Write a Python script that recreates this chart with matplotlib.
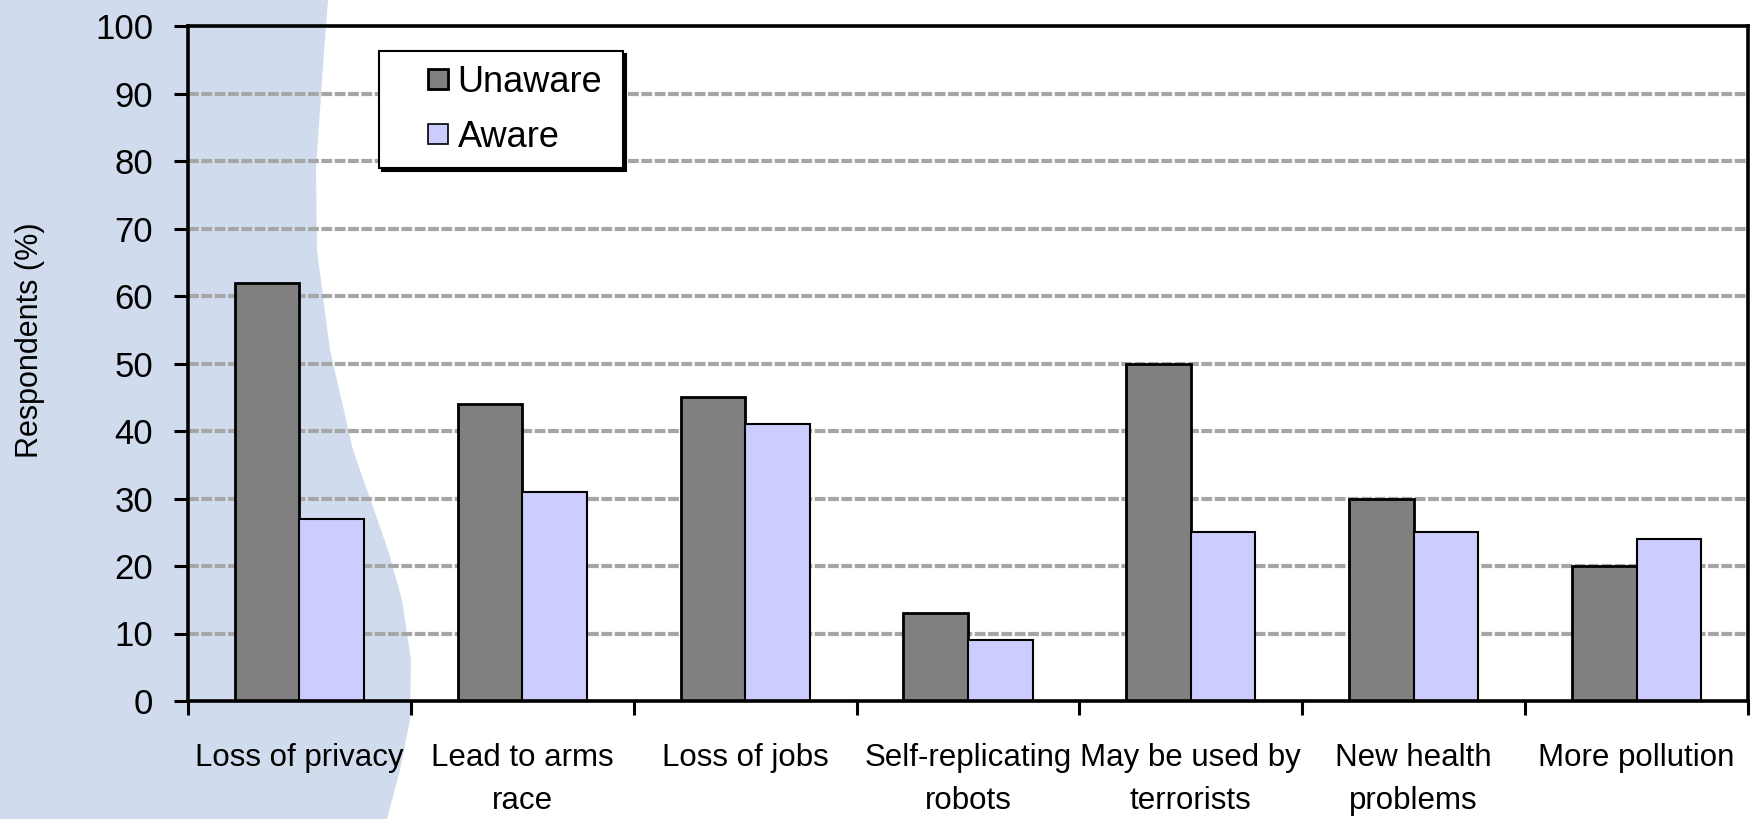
import matplotlib
matplotlib.use("Agg")
import matplotlib.pyplot as plt
import numpy as np
from matplotlib import font_manager as fm
from matplotlib.patches import Polygon
from matplotlib.lines import Line2D

categories = ["Loss of privacy", "Lead to arms\nrace", "Loss of jobs",
              "Self-replicating\nrobots", "May be used by\nterrorists",
              "New health\nproblems", "More pollution"]
unaware = [62, 44, 45, 13, 50, 30, 20]
aware = [27, 31, 41, 9, 25, 25, 24]
series_names = ["Unaware", "Aware"]
yticks = list(range(0, 101, 10))

names = {f.name for f in fm.fontManager.ttflist}
base = "Liberation Sans" if "Liberation Sans" in names else "DejaVu Sans"
narrow = "Liberation Sans Narrow" if "Liberation Sans Narrow" in names else base
narrow_size = 28 if narrow != base else 25
plt.rcParams["font.family"] = [base, "DejaVu Sans"]

W, H = 1751, 819
fig = plt.figure(figsize=(W / 100, H / 100), dpi=100)
fig.patch.set_facecolor("white")

# decorative blue wave on the left (figure pixel coords -> fraction)
wave_px = [(0, 0), (328, 0), (322, 80), (316, 170), (317, 250), (330, 350),
           (353, 450), (388, 550), (402, 600), (411, 660), (410, 720),
           (400, 770), (387, 819), (0, 819)]
wave = [(x / W, 1 - y / H) for x, y in wave_px]
bg = fig.add_axes([0, 0, 1, 1], zorder=-10)
bg.set_xlim(0, 1)
bg.set_ylim(0, 1)
bg.axis("off")
bg.add_patch(Polygon(wave, closed=True, transform=bg.transAxes,
                     facecolor="#D0DCEE", edgecolor="none"))

ax = fig.add_axes([188 / W, (H - 701) / H, 1560 / W, 675 / H], zorder=1)
ax.patch.set_alpha(0)

x = np.arange(len(categories))
bw = 0.29
ax.bar(x - bw / 2, unaware, bw, color="#808080", edgecolor="black",
       linewidth=2.0, zorder=3)
ax.bar(x + bw / 2, aware, bw, color="#CCCCFF", edgecolor="black",
       linewidth=1.5, zorder=3)

ax.set_xlim(-0.5, len(categories) - 0.5)
ax.set_ylim(0, 100)

# grid
for v in yticks[1:-1]:
    ax.axhline(v, color="#A6A6A6", linewidth=3.0, linestyle=(0, (2.6, 0.6)),
               zorder=1)

for s in ax.spines.values():
    s.set_linewidth(2.6)
    s.set_color("black")
    s.set_zorder(4)

ax.set_yticks(yticks)
ax.set_yticklabels([str(v) for v in yticks], fontsize=narrow_size,
                   family=[narrow, "DejaVu Sans"])
ax.tick_params(axis="y", direction="out", length=10, width=2.2, pad=15)

ax.set_xticks(np.arange(-0.5, len(categories), 1.0))
ax.set_xticklabels([])
ax.tick_params(axis="x", which="major", direction="out", length=10, width=2.2)
ax.set_xticks(x, minor=True)
ax.set_xticklabels(categories, minor=True, fontsize=22.5, linespacing=1.6)
ax.tick_params(axis="x", which="minor", length=0, pad=30)

ax.set_ylabel("Respondents (%)", fontsize=22, va="center")
ax.yaxis.set_label_coords((30 - 188) / 1560, (701 - 340) / 675)

handles = [Line2D([], [], linestyle="none", marker="s", markersize=15,
                  markerfacecolor="#808080", markeredgecolor="black",
                  markeredgewidth=2.0),
           Line2D([], [], linestyle="none", marker="s", markersize=15,
                  markerfacecolor="#CCCCFF", markeredgecolor="black",
                  markeredgewidth=1.2)]
leg = ax.legend(handles, series_names, loc="upper left",
                bbox_to_anchor=((379 - 188) / 1560, (701 - 51) / 675,
                                244 / 1560, 0.0),
                mode="expand", borderaxespad=0, fontsize=26,
                frameon=True, fancybox=False, edgecolor="black",
                framealpha=1, borderpad=0.38, labelspacing=0.55,
                handlelength=2.5, handletextpad=-0.7,
                shadow={"color": "black", "alpha": 1})
leg.get_frame().set_linewidth(1.5)
leg.set_zorder(5)

fig.savefig("out.png", dpi=100)
